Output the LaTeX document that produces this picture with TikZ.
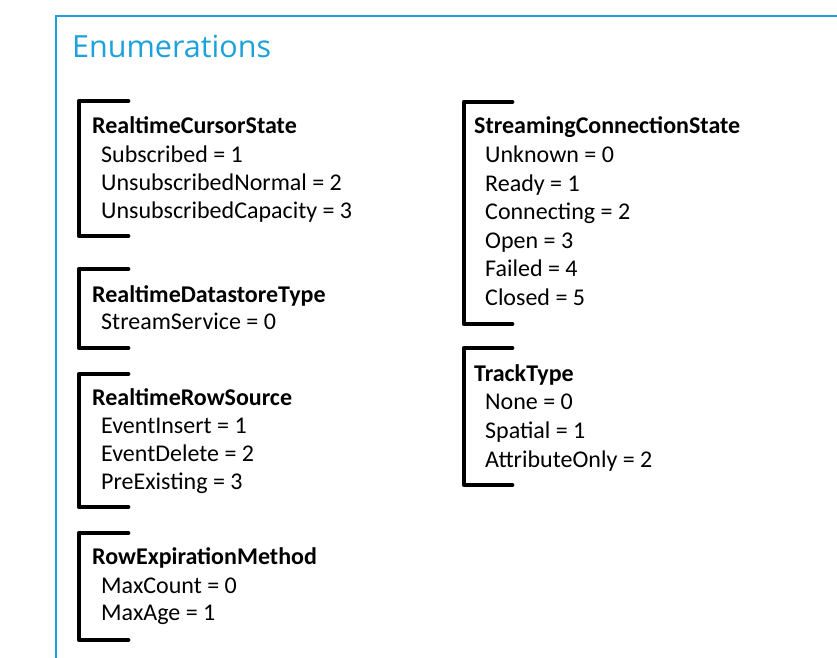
\documentclass[tikz,border=0pt]{standalone}
\usepackage{fontspec}
\setmainfont{Carlito}
\newfontfamily\titlefont{Open Sans}
\definecolor{frameblue}{RGB}{27,161,219}
\begin{document}
\begin{tikzpicture}[x=1pt,y=-1pt,
  enumtitle/.style={anchor=base west,inner sep=0pt,font=\fontsize{24}{28}\selectfont\bfseries},
  enumitem/.style={anchor=base west,inner sep=0pt,font=\fontsize{24}{28}\selectfont},
  brack/.style={line width=4.8pt,line cap=round,line join=round,black},
  frame/.style={line width=2.3pt,frameblue}]
\useasboundingbox (0,0) rectangle (837,657);
\fill[white] (0,0) rectangle (837,657);
% frame
\draw[frame] (56,670) -- (56,16) -- (850,16);
\node[anchor=base west,inner sep=0pt,text=frameblue,font=\titlefont\fontsize{30.5}{34}\selectfont] (title) at (72,57) {Enumerations};
% left column
\draw[brack] (128,101) -- (79,101) -- (79,236) -- (128,236);
\node[enumtitle] (rcs) at (92,133.8) {RealtimeCursorState};
\node[enumitem] (rcs1) at (101,162.2) {Subscribed = 1};
\node[enumitem] (rcs2) at (101,190.5) {UnsubscribedNormal = 2};
\node[enumitem] (rcs3) at (101,218.8) {UnsubscribedCapacity = 3};

\draw[brack] (128,269) -- (79,269) -- (79,348) -- (128,348);
\node[enumtitle] (rdt) at (92,302.2) {RealtimeDatastoreType};
\node[enumitem] (rdt1) at (101,329.8) {StreamService = 0};

\draw[brack] (128,374) -- (79,374) -- (79,507) -- (128,507);
\node[enumtitle] (rrs) at (92,405.5) {RealtimeRowSource};
\node[enumitem] (rrs1) at (101,433.2) {EventInsert = 1};
\node[enumitem] (rrs2) at (101,461.5) {EventDelete = 2};
\node[enumitem] (rrs3) at (101,489.8) {PreExisting = 3};

\draw[brack] (128,533) -- (79,533) -- (79,640) -- (128,640);
\node[enumtitle] (rem) at (92,564.8) {RowExpirationMethod};
\node[enumitem] (rem1) at (101,593.2) {MaxCount = 0};
\node[enumitem] (rem2) at (101,620.8) {MaxAge = 1};
% right column
\draw[brack] (512,102) -- (464,102) -- (464,324) -- (512,324);
\node[enumtitle] (scs) at (474,133.8) {StreamingConnectionState};
\node[enumitem] (scs1) at (485,162.5) {Unknown = 0};
\node[enumitem] (scs2) at (485,191.1) {Ready = 1};
\node[enumitem] (scs3) at (485,219.7) {Connecting = 2};
\node[enumitem] (scs4) at (485,248.3) {Open = 3};
\node[enumitem] (scs5) at (485,276.9) {Failed = 4};
\node[enumitem] (scs6) at (485,305.5) {Closed = 5};

\draw[brack] (512,348) -- (464,348) -- (464,485) -- (512,485);
\node[enumtitle] (tt) at (474,381.2) {TrackType};
\node[enumitem] (tt1) at (485,409.8) {None = 0};
\node[enumitem] (tt2) at (485,438.8) {Spatial = 1};
\node[enumitem] (tt3) at (485,467.2) {AttributeOnly = 2};
\end{tikzpicture}
\end{document}
